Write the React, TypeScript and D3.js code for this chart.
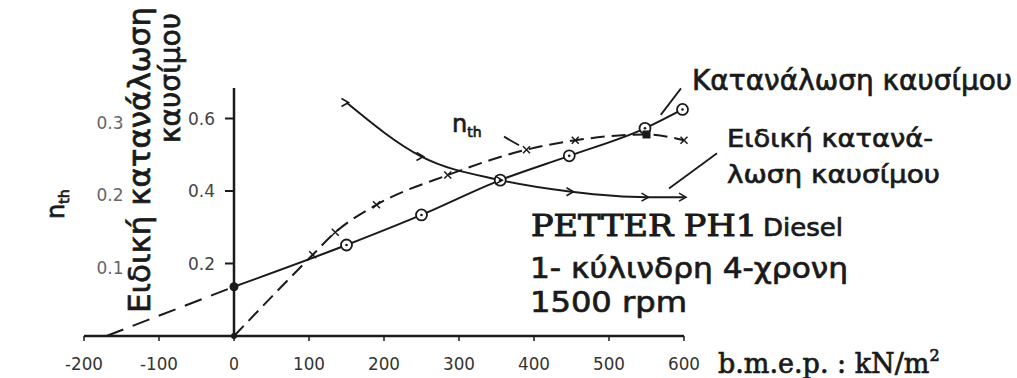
import * as d3 from 'd3';

// x axis: b.m.e.p. (kN/m2)
const bmepTicks = [-200, -100, 0, 100, 200, 300, 400, 500, 600];
// left axes
const sfcTicks = [0.2, 0.4, 0.6];
const nthTicks = [0.1, 0.2, 0.3];

// fuel consumption (solid, circles)
const fuelBmep = [0, 150, 250, 355, 447, 548, 598];
const fuelValues = [0.136, 0.251, 0.334, 0.43, 0.497, 0.573, 0.625];
// Willans line extension to the x axis
const fuelExtBmep = [-170, 0];
const fuelExtValues = [0, 0.136];

// specific fuel consumption (solid, falling)
const sfcBmep = [150, 250, 355, 450, 550, 600];
const sfcValues = [0.644, 0.495, 0.43, 0.398, 0.383, 0.383];

// thermal efficiency n_th (dashed)
const nthBmep = [0, 105, 135, 190, 285, 390, 455, 550, 600];
const nthValues = [0, 0.112, 0.143, 0.181, 0.222, 0.257, 0.27, 0.278, 0.27];

const W = 1017;
const H = 378;
const ink = '#1a1a1a';
const sans = '"DejaVu Sans", sans-serif';
const serif = '"DejaVu Serif", serif';

// slightly heavier strokes on the printed labels
const heavy = { stroke: ink, strokeWidth: 0.7 };

export default function App() {
  const x = d3.scaleLinear().domain([-200, 600]).range([84, 684]);
  const y = d3.scaleLinear().domain([0, 0.6]).range([336, 118.5]);
  const yN = d3.scaleLinear().domain([0, 0.3]).range([336, 118.5]);

  const pts = (xs: number[], vs: number[]) => xs.map((b, i) => [b, vs[i]] as [number, number]);

  const line = d3.line<[number, number]>()
    .x(d => x(d[0]))
    .y(d => y(d[1]))
    .curve(d3.curveMonotoneX);
  const lineN = d3.line<[number, number]>()
    .x(d => x(d[0]))
    .y(d => yN(d[1]))
    .curve(d3.curveMonotoneX);

  const fuel = pts(fuelBmep, fuelValues);
  const fuelExt = pts(fuelExtBmep, fuelExtValues);
  const sfc = pts(sfcBmep, sfcValues);
  const nth = pts(nthBmep, nthValues);

  const x0 = x(0);
  const yBase = y(0);

  return (
    <svg width={W} height={H} style={{ position: 'absolute', left: 0, top: 0, background: '#fff' }}>
      {/* axes */}
      <line x1={x(-200)} x2={x(600)} y1={yBase} y2={yBase} stroke={ink} strokeWidth={2.5} />
      <line x1={x0} x2={x0} y1={yBase} y2={88} stroke={ink} strokeWidth={2.5} />
      {bmepTicks.map(t => (
        <g key={t}>
          <line x1={x(t)} x2={x(t)} y1={yBase} y2={yBase + 5} stroke={ink} strokeWidth={1.5} />
          <text x={x(t)} y={370} textAnchor="middle" fontFamily={sans} fontSize={17} fill="#333"
            textLength={t < 0 ? 38 : t === 0 ? 10 : 32} lengthAdjust="spacingAndGlyphs">{t}</text>
        </g>
      ))}
      {sfcTicks.map(t => (
        <g key={t}>
          <line x1={x0 - 9} x2={x0} y1={y(t)} y2={y(t)} stroke={ink} strokeWidth={2} />
          <text x={215} y={y(t) + 6} textAnchor="end" fontFamily={sans} fontSize={17} fill="#444">{t.toFixed(1)}</text>
        </g>
      ))}
      {nthTicks.map(t => (
        <text key={t} x={110} y={yN(t) + 10} textAnchor="middle" fontFamily={sans} fontSize={17} fill="#666">{t.toFixed(1)}</text>
      ))}

      {/* axis titles */}
      <text transform="translate(64,219) rotate(-90)" fontFamily={sans} fontSize={24} fill={ink} {...heavy}>
        n<tspan fontSize={14} dy={5}>th</tspan>
      </text>
      <text transform="translate(150,313) rotate(-90)" fontFamily={sans} fontSize={30} fill={ink} {...heavy}
        textLength={306} lengthAdjust="spacingAndGlyphs">Ειδική κατανάλωση</text>
      <text transform="translate(180,143) rotate(-90)" fontFamily={sans} fontSize={28} fill={ink} {...heavy}
        textLength={130} lengthAdjust="spacingAndGlyphs">καυσίμου</text>
      <text x={718} y={373} fontFamily={serif} fontSize={27} fill={ink} {...heavy}>
        b.m.e.p. : kN/m<tspan fontSize={16} dy={-12}>2</tspan>
      </text>

      {/* curves */}
      <path d={line(fuelExt) ?? ''} fill="none" stroke={ink} strokeWidth={2} strokeDasharray="18,10" />
      <path d={line(fuel) ?? ''} fill="none" stroke={ink} strokeWidth={2} />
      <path d={line(sfc) ?? ''} fill="none" stroke={ink} strokeWidth={2} />
      <path d={lineN(nth) ?? ''} fill="none" stroke={ink} strokeWidth={2} strokeDasharray="14,7" />

      {/* markers */}
      <circle cx={x(0)} cy={y(fuelValues[0])} r={4.5} fill={ink} />
      <circle cx={x(0)} cy={yBase} r={3} fill={ink} />
      {fuel.slice(1).map((d, i) => (
        <g key={i}>
          <circle cx={x(d[0])} cy={y(d[1])} r={5.5} fill="#fff" stroke={ink} strokeWidth={1.8} />
          <circle cx={x(d[0])} cy={y(d[1])} r={1.3} fill={ink} />
        </g>
      ))}
      {sfc.map((d, i) => (
        <path key={i}
          d={`M${x(d[0]) - 5},${y(d[1]) - 4}L${x(d[0]) + 2},${y(d[1])}L${x(d[0]) - 5},${y(d[1]) + 4}`}
          fill="none" stroke={ink} strokeWidth={1.6} />
      ))}
      {nth.slice(1).map((d, i) => (
        d[0] === 550 ? (
          <rect key={i} x={x(d[0]) - 4} y={yN(d[1]) - 4} width={8} height={8} fill={ink} />
        ) : (
          <path key={i}
            d={`M${x(d[0]) - 3.5},${yN(d[1]) - 3.5}L${x(d[0]) + 3.5},${yN(d[1]) + 3.5}M${x(d[0]) - 3.5},${yN(d[1]) + 3.5}L${x(d[0]) + 3.5},${yN(d[1]) - 3.5}`}
            stroke={ink} strokeWidth={1.5} />
        )
      ))}

      {/* leader lines */}
      <line x1={x(569)} y1={y(0.61)} x2={x(596)} y2={y(0.683)} stroke={ink} strokeWidth={1.8} />
      <line x1={x(580)} y1={y(0.407)} x2={x(644)} y2={y(0.504)} stroke={ink} strokeWidth={1.8} />
      <line x1={x(360)} y1={y(0.55)} x2={x(380)} y2={y(0.526)} stroke={ink} strokeWidth={1.8} />

      {/* curve labels */}
      <text x={452} y={132} fontFamily={sans} fontSize={24} fill={ink} {...heavy}>
        n<tspan fontSize={14} dy={5}>th</tspan>
      </text>
      <text x={692} y={90} fontFamily={sans} fontSize={28} fill={ink} {...heavy}
        textLength={320} lengthAdjust="spacingAndGlyphs">Κατανάλωση καυσίμου</text>
      <text x={727} y={147} fontFamily={sans} fontSize={25} fill={ink} {...heavy}
        textLength={206} lengthAdjust="spacingAndGlyphs">Ειδική κατανά-</text>
      <text x={727} y={183} fontFamily={sans} fontSize={25} fill={ink} {...heavy}
        textLength={213} lengthAdjust="spacingAndGlyphs">λωση καυσίμου</text>

      {/* engine info */}
      <text x={531} y={236} fontFamily={serif} fontSize={30} fill={ink} stroke={ink} strokeWidth={1}
        textLength={226} lengthAdjust="spacingAndGlyphs">PETTER PH1</text>
      <text x={763} y={236} fontFamily={sans} fontSize={24} fill={ink} {...heavy}
        textLength={80} lengthAdjust="spacingAndGlyphs">Diesel</text>
      <text x={530} y={278} fontFamily={sans} fontSize={28} fill={ink} {...heavy}
        textLength={318} lengthAdjust="spacingAndGlyphs">1- κύλινδρη 4-χρονη</text>
      <text x={530} y={312} fontFamily={sans} fontSize={28} fill={ink} {...heavy}
        textLength={157} lengthAdjust="spacingAndGlyphs">1500 rpm</text>
    </svg>
  );
}
